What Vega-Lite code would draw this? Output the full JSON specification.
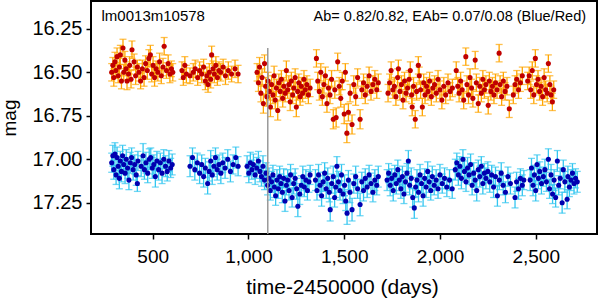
{
"$schema": "https://vega.github.io/schema/vega-lite/v6.json",
"width": 506, "height": 233,
"autosize": {"type": "none"},
"padding": {"left": 91, "top": 1, "right": 3, "bottom": 70},
"background": "white",
"config": {"font": "Liberation Sans", "view": {"stroke": "black", "strokeWidth": 2}},
"datasets": {
"red": [
{"t":286,"m":16.50,"e":0.05},{"t":292,"m":16.46,"e":0.045},{"t":297,"m":16.53,"e":0.05},{"t":303,"m":16.44,"e":0.055},{"t":308,"m":16.49,"e":0.045},{"t":314,"m":16.41,"e":0.05},{"t":320,"m":16.52,"e":0.04},{"t":326,"m":16.47,"e":0.05},{"t":331,"m":16.40,"e":0.055},{"t":337,"m":16.55,"e":0.045},{"t":345,"m":16.36,"e":0.05},{"t":349,"m":16.50,"e":0.045},{"t":355,"m":16.43,"e":0.05},{"t":361,"m":16.48,"e":0.04},{"t":366,"m":16.55,"e":0.05},{"t":374,"m":16.51,"e":0.045},{"t":380,"m":16.46,"e":0.05},{"t":387,"m":16.54,"e":0.05},{"t":392,"m":16.37,"e":0.05},{"t":403,"m":16.44,"e":0.045},{"t":411,"m":16.52,"e":0.05},{"t":420,"m":16.47,"e":0.04},{"t":428,"m":16.50,"e":0.05},{"t":437,"m":16.55,"e":0.045},{"t":446,"m":16.48,"e":0.05},{"t":455,"m":16.53,"e":0.05},{"t":463,"m":16.45,"e":0.045},{"t":472,"m":16.49,"e":0.05},{"t":480,"m":16.42,"e":0.05},{"t":488,"m":16.40,"e":0.055},{"t":495,"m":16.51,"e":0.045},{"t":502,"m":16.46,"e":0.05},{"t":510,"m":16.53,"e":0.05},{"t":518,"m":16.48,"e":0.045},{"t":527,"m":16.50,"e":0.05},{"t":536,"m":16.44,"e":0.05},{"t":545,"m":16.52,"e":0.045},{"t":554,"m":16.47,"e":0.05},{"t":560,"m":16.35,"e":0.05},{"t":572,"m":16.49,"e":0.045},{"t":581,"m":16.45,"e":0.05},{"t":590,"m":16.51,"e":0.05},{"t":598,"m":16.48,"e":0.045},{"t":605,"m":16.50,"e":0.05},
{"t":653,"m":16.49,"e":0.05},{"t":660,"m":16.53,"e":0.045},{"t":668,"m":16.46,"e":0.05},{"t":676,"m":16.51,"e":0.05},{"t":695,"m":16.52,"e":0.045},{"t":712,"m":16.50,"e":0.05},{"t":722,"m":16.48,"e":0.05},{"t":735,"m":16.53,"e":0.045},{"t":745,"m":16.49,"e":0.05},{"t":756,"m":16.51,"e":0.05},{"t":766,"m":16.47,"e":0.045},{"t":775,"m":16.55,"e":0.05},{"t":783,"m":16.52,"e":0.05},{"t":789,"m":16.57,"e":0.045},{"t":796,"m":16.50,"e":0.05},{"t":803,"m":16.54,"e":0.05},{"t":808,"m":16.40,"e":0.05},{"t":815,"m":16.48,"e":0.045},{"t":822,"m":16.51,"e":0.05},{"t":830,"m":16.46,"e":0.05},{"t":838,"m":16.53,"e":0.045},{"t":846,"m":16.49,"e":0.05},{"t":855,"m":16.50,"e":0.05},{"t":868,"m":16.47,"e":0.045},{"t":880,"m":16.52,"e":0.05},{"t":895,"m":16.49,"e":0.05},{"t":912,"m":16.51,"e":0.045},{"t":930,"m":16.48,"e":0.05},{"t":946,"m":16.51,"e":0.05},
{"t":1045,"m":16.50,"e":0.05},{"t":1052,"m":16.56,"e":0.05},{"t":1058,"m":16.47,"e":0.055},{"t":1065,"m":16.62,"e":0.05},{"t":1071,"m":16.53,"e":0.05},{"t":1078,"m":16.68,"e":0.055},{"t":1084,"m":16.45,"e":0.05},{"t":1090,"m":16.58,"e":0.05},{"t":1096,"m":16.64,"e":0.055},{"t":1103,"m":16.55,"e":0.05},{"t":1109,"m":16.61,"e":0.05},{"t":1115,"m":16.70,"e":0.055},{"t":1121,"m":16.57,"e":0.05},{"t":1128,"m":16.63,"e":0.05},{"t":1134,"m":16.52,"e":0.055},{"t":1140,"m":16.66,"e":0.05},{"t":1146,"m":16.59,"e":0.05},{"t":1153,"m":16.72,"e":0.055},{"t":1159,"m":16.56,"e":0.05},{"t":1166,"m":16.61,"e":0.05},{"t":1172,"m":16.54,"e":0.05},{"t":1179,"m":16.65,"e":0.05},{"t":1185,"m":16.58,"e":0.05},{"t":1192,"m":16.62,"e":0.05},{"t":1198,"m":16.49,"e":0.055},{"t":1205,"m":16.60,"e":0.05},{"t":1211,"m":16.57,"e":0.05},{"t":1218,"m":16.67,"e":0.05},{"t":1224,"m":16.55,"e":0.05},{"t":1231,"m":16.63,"e":0.05},{"t":1237,"m":16.59,"e":0.05},{"t":1244,"m":16.53,"e":0.05},{"t":1250,"m":16.70,"e":0.055},{"t":1257,"m":16.61,"e":0.05},{"t":1263,"m":16.56,"e":0.05},{"t":1270,"m":16.64,"e":0.05},{"t":1276,"m":16.58,"e":0.05},{"t":1283,"m":16.62,"e":0.05},{"t":1290,"m":16.54,"e":0.05},{"t":1297,"m":16.60,"e":0.05},{"t":1305,"m":16.57,"e":0.05},{"t":1313,"m":16.63,"e":0.05},{"t":1322,"m":16.59,"e":0.05},
{"t":1355,"m":16.42,"e":0.05},{"t":1362,"m":16.55,"e":0.05},{"t":1370,"m":16.61,"e":0.05},{"t":1378,"m":16.50,"e":0.05},{"t":1386,"m":16.64,"e":0.05},{"t":1394,"m":16.57,"e":0.05},{"t":1402,"m":16.52,"e":0.05},{"t":1410,"m":16.68,"e":0.05},{"t":1418,"m":16.59,"e":0.05},{"t":1426,"m":16.63,"e":0.05},{"t":1434,"m":16.54,"e":0.05},{"t":1443,"m":16.77,"e":0.055},{"t":1451,"m":16.60,"e":0.05},{"t":1458,"m":16.76,"e":0.055},{"t":1466,"m":16.44,"e":0.05},{"t":1474,"m":16.58,"e":0.05},{"t":1482,"m":16.65,"e":0.05},{"t":1490,"m":16.55,"e":0.05},{"t":1500,"m":16.74,"e":0.055},{"t":1506,"m":16.50,"e":0.05},{"t":1514,"m":16.85,"e":0.055},{"t":1522,"m":16.73,"e":0.05},{"t":1531,"m":16.62,"e":0.05},{"t":1541,"m":16.80,"e":0.055},{"t":1550,"m":16.57,"e":0.05},{"t":1560,"m":16.64,"e":0.05},{"t":1570,"m":16.53,"e":0.05},{"t":1583,"m":16.77,"e":0.055},{"t":1592,"m":16.60,"e":0.05},{"t":1601,"m":16.56,"e":0.05},{"t":1610,"m":16.63,"e":0.05},{"t":1620,"m":16.58,"e":0.05},{"t":1630,"m":16.52,"e":0.05},{"t":1640,"m":16.61,"e":0.05},{"t":1650,"m":16.57,"e":0.05},{"t":1660,"m":16.54,"e":0.05},{"t":1670,"m":16.60,"e":0.05},{"t":1678,"m":16.56,"e":0.05},
{"t":1729,"m":16.62,"e":0.05},{"t":1737,"m":16.56,"e":0.05},{"t":1745,"m":16.49,"e":0.05},{"t":1754,"m":16.60,"e":0.05},{"t":1762,"m":16.58,"e":0.05},{"t":1770,"m":16.64,"e":0.05},{"t":1779,"m":16.53,"e":0.05},{"t":1783,"m":16.48,"e":0.05},{"t":1791,"m":16.61,"e":0.05},{"t":1799,"m":16.57,"e":0.05},{"t":1807,"m":16.66,"e":0.05},{"t":1815,"m":16.55,"e":0.05},{"t":1823,"m":16.62,"e":0.05},{"t":1831,"m":16.59,"e":0.05},{"t":1839,"m":16.54,"e":0.05},{"t":1845,"m":16.49,"e":0.05},{"t":1852,"m":16.63,"e":0.05},{"t":1855,"m":16.70,"e":0.05},{"t":1862,"m":16.58,"e":0.05},{"t":1871,"m":16.77,"e":0.05},{"t":1878,"m":16.61,"e":0.05},{"t":1887,"m":16.46,"e":0.05},{"t":1892,"m":16.52,"e":0.05},{"t":1899,"m":16.60,"e":0.05},{"t":1908,"m":16.70,"e":0.05},{"t":1915,"m":16.56,"e":0.05},{"t":1922,"m":16.63,"e":0.05},{"t":1930,"m":16.58,"e":0.05},{"t":1938,"m":16.61,"e":0.05},{"t":1946,"m":16.55,"e":0.05},{"t":1955,"m":16.64,"e":0.05},{"t":1963,"m":16.59,"e":0.05},{"t":1972,"m":16.57,"e":0.05},{"t":1981,"m":16.62,"e":0.05},{"t":1990,"m":16.54,"e":0.05},{"t":2000,"m":16.60,"e":0.05},{"t":2010,"m":16.66,"e":0.05},{"t":2020,"m":16.58,"e":0.05},{"t":2030,"m":16.63,"e":0.05},{"t":2042,"m":16.56,"e":0.05},{"t":2053,"m":16.61,"e":0.05},{"t":2065,"m":16.59,"e":0.05},
{"t":2085,"m":16.49,"e":0.05},{"t":2093,"m":16.58,"e":0.05},{"t":2100,"m":16.62,"e":0.05},{"t":2108,"m":16.55,"e":0.05},{"t":2116,"m":16.60,"e":0.05},{"t":2124,"m":16.66,"e":0.05},{"t":2135,"m":16.41,"e":0.05},{"t":2141,"m":16.57,"e":0.05},{"t":2149,"m":16.63,"e":0.05},{"t":2157,"m":16.53,"e":0.05},{"t":2165,"m":16.59,"e":0.05},{"t":2172,"m":16.65,"e":0.05},{"t":2184,"m":16.43,"e":0.05},{"t":2190,"m":16.56,"e":0.05},{"t":2200,"m":16.68,"e":0.05},{"t":2208,"m":16.58,"e":0.05},{"t":2216,"m":16.62,"e":0.05},{"t":2224,"m":16.54,"e":0.05},{"t":2232,"m":16.60,"e":0.05},{"t":2240,"m":16.57,"e":0.05},{"t":2252,"m":16.69,"e":0.05},{"t":2258,"m":16.55,"e":0.05},{"t":2266,"m":16.61,"e":0.05},{"t":2274,"m":16.58,"e":0.05},{"t":2282,"m":16.63,"e":0.05},{"t":2290,"m":16.56,"e":0.05},{"t":2298,"m":16.60,"e":0.05},{"t":2309,"m":16.39,"e":0.05},{"t":2314,"m":16.57,"e":0.05},{"t":2322,"m":16.64,"e":0.05},{"t":2331,"m":16.55,"e":0.05},{"t":2340,"m":16.61,"e":0.05},{"t":2350,"m":16.58,"e":0.05},{"t":2362,"m":16.71,"e":0.05},
{"t":2383,"m":16.63,"e":0.05},{"t":2392,"m":16.57,"e":0.05},{"t":2401,"m":16.54,"e":0.05},{"t":2410,"m":16.60,"e":0.05},{"t":2420,"m":16.56,"e":0.05},{"t":2430,"m":16.52,"e":0.05},
{"t":2458,"m":16.55,"e":0.05},{"t":2466,"m":16.52,"e":0.05},{"t":2474,"m":16.60,"e":0.05},{"t":2482,"m":16.49,"e":0.05},{"t":2490,"m":16.63,"e":0.05},{"t":2498,"m":16.42,"e":0.05},{"t":2504,"m":16.57,"e":0.05},{"t":2512,"m":16.54,"e":0.05},{"t":2520,"m":16.61,"e":0.05},{"t":2528,"m":16.58,"e":0.05},{"t":2536,"m":16.64,"e":0.05},{"t":2544,"m":16.53,"e":0.05},{"t":2552,"m":16.60,"e":0.05},{"t":2560,"m":16.62,"e":0.05},{"t":2566,"m":16.45,"e":0.05},{"t":2574,"m":16.57,"e":0.05},{"t":2580,"m":16.63,"e":0.05},{"t":2587,"m":16.67,"e":0.05},{"t":2594,"m":16.60,"e":0.05}
],
"blue": [
{"t":286,"m":17.02,"e":0.055},{"t":292,"m":16.98,"e":0.06},{"t":297,"m":17.06,"e":0.055},{"t":303,"m":16.97,"e":0.065},{"t":309,"m":17.09,"e":0.055},{"t":314,"m":16.99,"e":0.06},{"t":320,"m":17.04,"e":0.055},{"t":326,"m":17.11,"e":0.06},{"t":331,"m":17.01,"e":0.055},{"t":337,"m":17.07,"e":0.06},{"t":343,"m":16.98,"e":0.06},{"t":349,"m":17.03,"e":0.055},{"t":356,"m":17.08,"e":0.06},{"t":362,"m":17.00,"e":0.055},{"t":369,"m":17.05,"e":0.06},{"t":376,"m":17.12,"e":0.055},{"t":383,"m":17.02,"e":0.06},{"t":390,"m":16.99,"e":0.055},{"t":398,"m":17.06,"e":0.06},{"t":406,"m":17.03,"e":0.055},{"t":414,"m":17.09,"e":0.06},{"t":420,"m":17.14,"e":0.045},{"t":423,"m":17.01,"e":0.055},{"t":440,"m":17.04,"e":0.06},{"t":450,"m":16.98,"e":0.07},{"t":457,"m":17.06,"e":0.055},{"t":465,"m":17.02,"e":0.06},{"t":474,"m":17.08,"e":0.055},{"t":482,"m":17.00,"e":0.06},{"t":490,"m":16.99,"e":0.055},{"t":498,"m":17.05,"e":0.06},{"t":506,"m":17.03,"e":0.055},{"t":514,"m":17.10,"e":0.06},{"t":522,"m":17.01,"e":0.055},{"t":531,"m":17.06,"e":0.06},{"t":540,"m":17.02,"e":0.055},{"t":549,"m":17.08,"e":0.06},{"t":558,"m":17.00,"e":0.055},{"t":567,"m":17.04,"e":0.06},{"t":576,"m":17.07,"e":0.055},{"t":585,"m":17.01,"e":0.06},{"t":594,"m":17.05,"e":0.055},{"t":602,"m":17.03,"e":0.06},
{"t":695,"m":17.04,"e":0.06},{"t":708,"m":16.99,"e":0.055},{"t":720,"m":17.06,"e":0.06},{"t":733,"m":17.02,"e":0.055},{"t":745,"m":17.08,"e":0.06},{"t":756,"m":17.03,"e":0.055},{"t":766,"m":17.10,"e":0.06},{"t":775,"m":17.05,"e":0.055},{"t":787,"m":17.14,"e":0.06},{"t":795,"m":17.07,"e":0.055},{"t":803,"m":17.01,"e":0.06},{"t":811,"m":17.09,"e":0.055},{"t":820,"m":17.04,"e":0.06},{"t":828,"m":16.99,"e":0.055},{"t":837,"m":17.06,"e":0.06},{"t":846,"m":17.03,"e":0.055},{"t":856,"m":17.08,"e":0.06},{"t":866,"m":17.02,"e":0.055},{"t":878,"m":17.05,"e":0.06},{"t":892,"m":17.00,"e":0.055},{"t":906,"m":17.07,"e":0.06},{"t":920,"m":17.03,"e":0.055},{"t":934,"m":16.99,"e":0.06},{"t":946,"m":17.04,"e":0.055},
{"t":993,"m":17.04,"e":0.06},{"t":1002,"m":17.08,"e":0.055},{"t":1010,"m":17.02,"e":0.06},{"t":1018,"m":17.06,"e":0.055},{"t":1026,"m":17.03,"e":0.06},{"t":1035,"m":17.09,"e":0.055},{"t":1043,"m":17.05,"e":0.06},{"t":1052,"m":17.01,"e":0.055},{"t":1060,"m":17.07,"e":0.06},{"t":1068,"m":17.10,"e":0.055},{"t":1076,"m":17.04,"e":0.06},{"t":1084,"m":17.12,"e":0.055},{"t":1092,"m":17.08,"e":0.06},{"t":1100,"m":17.15,"e":0.055},{"t":1107,"m":17.11,"e":0.06},{"t":1114,"m":17.18,"e":0.055},{"t":1121,"m":17.13,"e":0.06},{"t":1128,"m":17.09,"e":0.055},{"t":1135,"m":17.16,"e":0.06},{"t":1142,"m":17.21,"e":0.055},{"t":1149,"m":17.12,"e":0.06},{"t":1156,"m":17.17,"e":0.055},{"t":1163,"m":17.10,"e":0.06},{"t":1170,"m":17.14,"e":0.055},{"t":1177,"m":17.19,"e":0.06},{"t":1184,"m":17.11,"e":0.055},{"t":1191,"m":17.24,"e":0.06},{"t":1198,"m":17.15,"e":0.055},{"t":1205,"m":17.12,"e":0.06},{"t":1212,"m":17.18,"e":0.055},{"t":1220,"m":17.09,"e":0.06},{"t":1228,"m":17.22,"e":0.055},{"t":1236,"m":17.14,"e":0.06},{"t":1244,"m":17.11,"e":0.055},{"t":1252,"m":17.17,"e":0.06},{"t":1258,"m":17.27,"e":0.06},{"t":1268,"m":17.20,"e":0.06},{"t":1276,"m":17.15,"e":0.055},{"t":1284,"m":17.10,"e":0.06},{"t":1292,"m":17.16,"e":0.055},{"t":1300,"m":17.12,"e":0.06},{"t":1308,"m":17.18,"e":0.055},{"t":1316,"m":17.13,"e":0.06},{"t":1322,"m":17.09,"e":0.055},
{"t":1350,"m":17.12,"e":0.06},{"t":1358,"m":17.18,"e":0.055},{"t":1366,"m":17.09,"e":0.06},{"t":1374,"m":17.15,"e":0.055},{"t":1382,"m":17.21,"e":0.06},{"t":1390,"m":17.13,"e":0.055},{"t":1398,"m":17.08,"e":0.06},{"t":1406,"m":17.17,"e":0.055},{"t":1414,"m":17.11,"e":0.06},{"t":1422,"m":17.19,"e":0.055},{"t":1427,"m":17.29,"e":0.065},{"t":1435,"m":17.14,"e":0.055},{"t":1443,"m":17.10,"e":0.06},{"t":1450,"m":17.22,"e":0.055},{"t":1456,"m":17.16,"e":0.06},{"t":1462,"m":17.04,"e":0.055},{"t":1470,"m":17.13,"e":0.06},{"t":1478,"m":17.18,"e":0.055},{"t":1486,"m":17.09,"e":0.06},{"t":1494,"m":17.20,"e":0.055},{"t":1502,"m":17.15,"e":0.06},{"t":1508,"m":17.24,"e":0.055},{"t":1515,"m":17.31,"e":0.065},{"t":1522,"m":17.12,"e":0.055},{"t":1530,"m":17.19,"e":0.06},{"t":1541,"m":17.29,"e":0.065},{"t":1550,"m":17.14,"e":0.055},{"t":1560,"m":17.10,"e":0.06},{"t":1570,"m":17.17,"e":0.055},{"t":1583,"m":17.26,"e":0.065},{"t":1592,"m":17.13,"e":0.055},{"t":1601,"m":17.18,"e":0.06},{"t":1610,"m":17.11,"e":0.055},{"t":1620,"m":17.16,"e":0.06},{"t":1630,"m":17.09,"e":0.055},{"t":1640,"m":17.14,"e":0.06},{"t":1650,"m":17.19,"e":0.055},{"t":1660,"m":17.12,"e":0.06},{"t":1670,"m":17.15,"e":0.055},{"t":1678,"m":17.10,"e":0.06},
{"t":1724,"m":17.12,"e":0.06},{"t":1732,"m":17.08,"e":0.055},{"t":1740,"m":17.15,"e":0.06},{"t":1748,"m":17.11,"e":0.055},{"t":1756,"m":17.18,"e":0.06},{"t":1764,"m":17.09,"e":0.055},{"t":1772,"m":17.14,"e":0.06},{"t":1780,"m":17.06,"e":0.055},{"t":1788,"m":17.12,"e":0.06},{"t":1796,"m":17.17,"e":0.055},{"t":1804,"m":17.10,"e":0.06},{"t":1812,"m":17.20,"e":0.055},{"t":1820,"m":17.13,"e":0.06},{"t":1828,"m":17.08,"e":0.055},{"t":1835,"m":17.01,"e":0.06},{"t":1842,"m":17.15,"e":0.055},{"t":1850,"m":17.11,"e":0.06},{"t":1858,"m":17.22,"e":0.055},{"t":1866,"m":17.28,"e":0.06},{"t":1873,"m":17.16,"e":0.055},{"t":1880,"m":17.12,"e":0.06},{"t":1888,"m":17.19,"e":0.055},{"t":1896,"m":17.09,"e":0.06},{"t":1904,"m":17.14,"e":0.055},{"t":1912,"m":17.21,"e":0.06},{"t":1920,"m":17.11,"e":0.055},{"t":1928,"m":17.16,"e":0.06},{"t":1936,"m":17.07,"e":0.055},{"t":1944,"m":17.13,"e":0.06},{"t":1952,"m":17.18,"e":0.055},{"t":1960,"m":17.10,"e":0.06},{"t":1970,"m":17.15,"e":0.055},{"t":1980,"m":17.12,"e":0.06},{"t":1990,"m":17.17,"e":0.055},{"t":2000,"m":17.09,"e":0.06},{"t":2012,"m":17.14,"e":0.055},{"t":2024,"m":17.11,"e":0.06},{"t":2036,"m":17.16,"e":0.055},{"t":2050,"m":17.12,"e":0.06},{"t":2064,"m":17.17,"e":0.055},
{"t":2080,"m":17.06,"e":0.06},{"t":2088,"m":17.02,"e":0.055},{"t":2096,"m":17.09,"e":0.06},{"t":2104,"m":17.04,"e":0.055},{"t":2112,"m":17.11,"e":0.06},{"t":2120,"m":17.00,"e":0.055},{"t":2128,"m":17.07,"e":0.06},{"t":2136,"m":17.13,"e":0.055},{"t":2144,"m":17.05,"e":0.06},{"t":2152,"m":17.09,"e":0.055},{"t":2160,"m":17.03,"e":0.06},{"t":2168,"m":17.15,"e":0.055},{"t":2176,"m":17.08,"e":0.06},{"t":2184,"m":17.12,"e":0.055},{"t":2192,"m":17.18,"e":0.06},{"t":2200,"m":17.06,"e":0.055},{"t":2208,"m":17.10,"e":0.06},{"t":2216,"m":17.04,"e":0.055},{"t":2224,"m":17.14,"e":0.06},{"t":2232,"m":17.08,"e":0.055},{"t":2240,"m":17.11,"e":0.06},{"t":2250,"m":17.07,"e":0.055},{"t":2260,"m":17.13,"e":0.06},{"t":2270,"m":17.09,"e":0.055},{"t":2280,"m":17.16,"e":0.06},{"t":2290,"m":17.10,"e":0.055},{"t":2300,"m":17.21,"e":0.06},{"t":2310,"m":17.12,"e":0.055},{"t":2320,"m":17.08,"e":0.06},{"t":2330,"m":17.15,"e":0.055},{"t":2342,"m":17.19,"e":0.06},{"t":2355,"m":17.10,"e":0.055},{"t":2368,"m":17.14,"e":0.06},
{"t":2392,"m":17.22,"e":0.06},{"t":2400,"m":17.13,"e":0.055},{"t":2410,"m":17.17,"e":0.06},{"t":2420,"m":17.11,"e":0.055},{"t":2430,"m":17.15,"e":0.06},{"t":2438,"m":17.12,"e":0.055},
{"t":2471,"m":17.12,"e":0.06},{"t":2478,"m":17.05,"e":0.055},{"t":2486,"m":17.15,"e":0.06},{"t":2493,"m":17.09,"e":0.055},{"t":2500,"m":17.18,"e":0.06},{"t":2507,"m":17.03,"e":0.055},{"t":2514,"m":17.11,"e":0.06},{"t":2521,"m":17.07,"e":0.055},{"t":2530,"m":17.14,"e":0.06},{"t":2540,"m":17.10,"e":0.055},{"t":2548,"m":17.06,"e":0.06},{"t":2556,"m":17.13,"e":0.055},{"t":2566,"m":17.00,"e":0.06},{"t":2572,"m":17.17,"e":0.055},{"t":2580,"m":17.09,"e":0.06},{"t":2588,"m":17.20,"e":0.055},{"t":2596,"m":17.12,"e":0.06},{"t":2604,"m":17.22,"e":0.055},{"t":2613,"m":17.01,"e":0.06},{"t":2620,"m":17.15,"e":0.055},{"t":2628,"m":17.11,"e":0.06},{"t":2638,"m":17.25,"e":0.06},{"t":2644,"m":17.06,"e":0.055},{"t":2652,"m":17.13,"e":0.06},{"t":2664,"m":17.23,"e":0.055},{"t":2668,"m":17.10,"e":0.06},{"t":2676,"m":17.16,"e":0.055},{"t":2684,"m":17.12,"e":0.06},{"t":2692,"m":17.08,"e":0.055},{"t":2700,"m":17.14,"e":0.06},{"t":2708,"m":17.11,"e":0.055},{"t":2717,"m":17.13,"e":0.06}
]
},
"layer": [
{"data": {"name": "red"},
 "mark": {"type": "errorbar", "color": "#ffa500", "thickness": 1.3, "ticks": {"size": 7, "thickness": 1.3, "color": "#ffa500"}},
 "encoding": {
  "x": {"field": "t", "type": "quantitative", "title": "time-2450000 (days)",
   "scale": {"domain": [178, 2820], "nice": false, "zero": false},
   "axis": {"values": [500, 1000, 1500, 2000, 2500], "labelExpr": "format(datum.value, ',.0f')", "grid": false, "domain": false,
    "tickSize": 5, "tickColor": "black", "tickWidth": 1.5, "labelFontSize": 19, "labelColor": "black", "labelPadding": 8,
    "titleFontSize": 21, "titleFontWeight": "normal", "titleColor": "black",
    "titleX": 251, "titleY": 59, "titleBaseline": "alphabetic"}},
  "y": {"field": "m", "type": "quantitative", "title": "mag",
   "scale": {"domain": [16.09, 17.43], "reverse": true, "nice": false, "zero": false},
   "axis": {"values": [16.25, 16.5, 16.75, 17, 17.25], "labelExpr": "format(datum.value, '.2f')", "grid": false, "domain": false,
    "tickSize": 5, "tickColor": "black", "tickWidth": 1.5, "labelFontSize": 20, "labelColor": "black", "labelPadding": 4,
    "titleFontSize": 19, "titleFontWeight": "normal", "titleColor": "black",
    "titleX": -76, "titleY": 116.5, "titleAngle": 270, "titleAlign": "center", "titleBaseline": "alphabetic"}},
  "yError": {"field": "e"}}},
{"data": {"name": "red"},
 "mark": {"type": "circle", "color": "#c00000", "size": 26, "opacity": 1},
 "encoding": {"x": {"field": "t", "type": "quantitative", "title": "time-2450000 (days)"}, "y": {"field": "m", "type": "quantitative", "title": "mag"}}},
{"data": {"name": "blue"},
 "mark": {"type": "errorbar", "color": "#33c6f0", "thickness": 1.3, "ticks": {"size": 7, "thickness": 1.3, "color": "#33c6f0"}},
 "encoding": {"x": {"field": "t", "type": "quantitative", "title": "time-2450000 (days)"}, "y": {"field": "m", "type": "quantitative", "title": "mag"}, "yError": {"field": "e"}}},
{"data": {"name": "blue"},
 "mark": {"type": "circle", "color": "#0000b0", "size": 26, "opacity": 1},
 "encoding": {"x": {"field": "t", "type": "quantitative", "title": "time-2450000 (days)"}, "y": {"field": "m", "type": "quantitative", "title": "mag"}}},
{"data": {"values": [{"label": "event"}]},
 "mark": {"type": "rule", "color": "#999999", "strokeWidth": 1.5},
 "encoding": {"x": {"datum": 1101, "type": "quantitative", "title": "time-2450000 (days)"}, "y": {"datum": 16.36, "type": "quantitative", "title": "mag"}, "y2": {"datum": 17.43}}},
{"data": {"values": [{"label": "lm0013m10578"}]},
 "mark": {"type": "text", "align": "left", "baseline": "alphabetic", "fontSize": 15, "color": "black"},
 "encoding": {"x": {"datum": 233, "type": "quantitative", "title": "time-2450000 (days)"}, "y": {"datum": 16.203, "type": "quantitative", "title": "mag"}, "text": {"field": "label"}}},
{"data": {"values": [{"label": "Ab= 0.82/0.82, EAb= 0.07/0.08  (Blue/Red)"}]},
 "mark": {"type": "text", "align": "right", "baseline": "alphabetic", "fontSize": 14.5, "color": "black"},
 "encoding": {"x": {"datum": 2763, "type": "quantitative", "title": "time-2450000 (days)"}, "y": {"datum": 16.203, "type": "quantitative", "title": "mag"}, "text": {"field": "label"}}}
]
}
